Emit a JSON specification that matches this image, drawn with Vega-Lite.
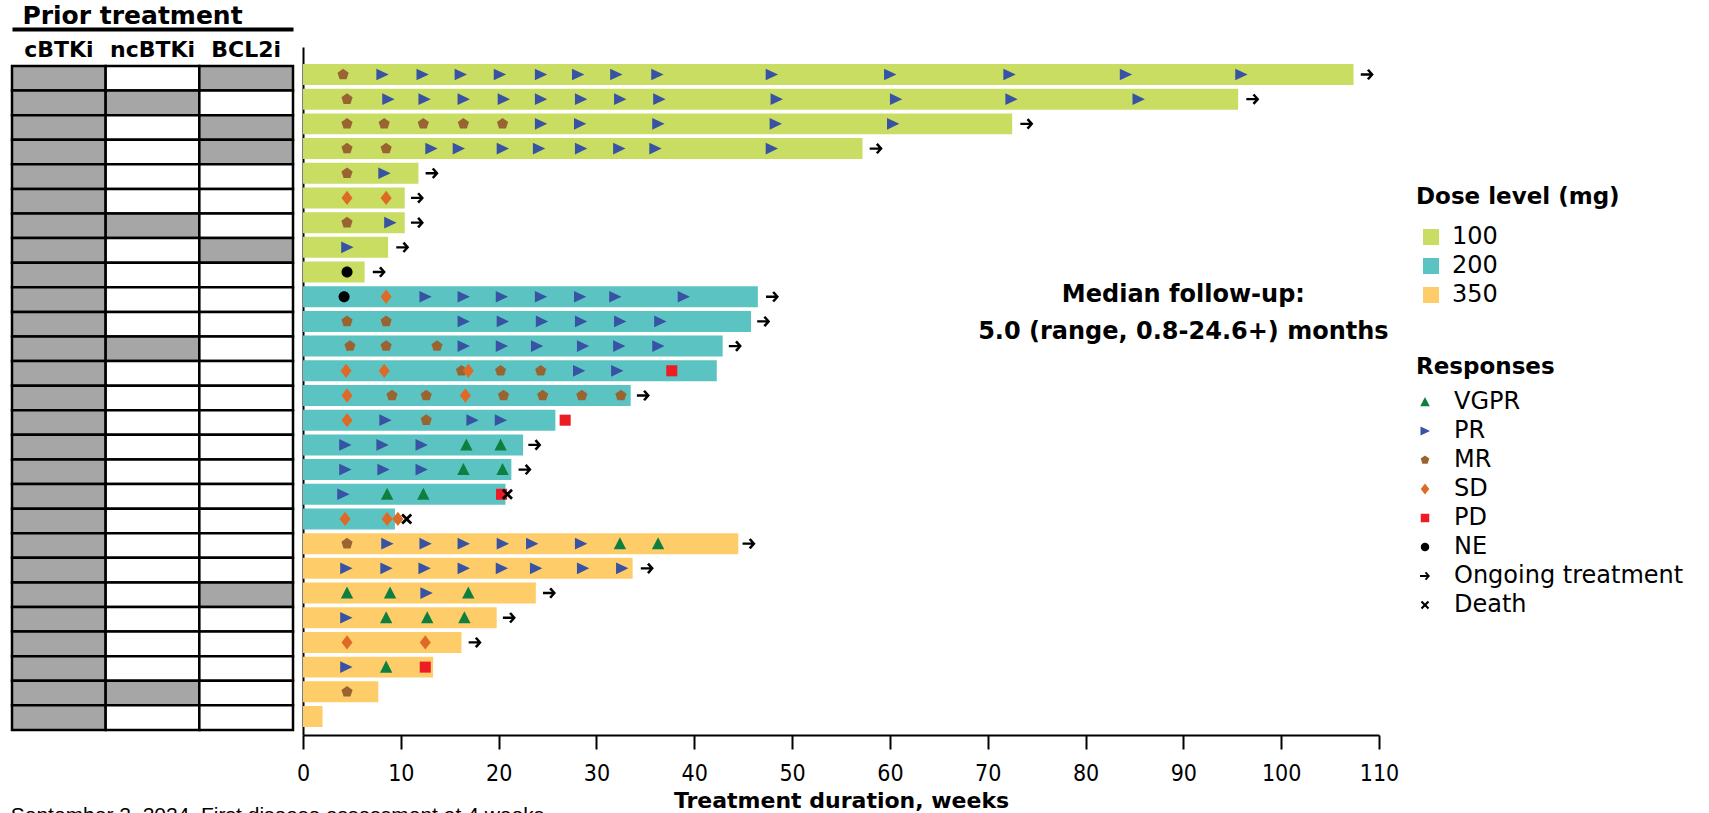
{
  "$schema": "https://vega.github.io/schema/vega-lite/v6.json",
  "padding": {"left": 10, "top": 3, "right": 5, "bottom": 0},
  "bounds": "flush",
  "spacing": 10,
  "resolve": {"scale": {"y": "independent", "fill": "independent", "color": "independent", "shape": "independent"}},
  "config": {
    "view": {"stroke": null},
    "font": "DejaVu Sans",
    "axis": {"labelColor": "#000", "titleColor": "#000"},
    "legend": {
      "labelFontSize": 24, "titleFontSize": 23, "titleFontWeight": "bold", "labelFont": "DejaVu Sans", "titleFont": "DejaVu Sans",
      "labelColor": "#000", "titleColor": "#000", "labelLimit": 0, "titleLimit": 0,
      "rowPadding": 5, "symbolStrokeWidth": 0
    }
  },
  "datasets": {
    "patients": [
      {"pt": 1, "dose": "100", "dur": 107.4, "cBTKi": "Yes", "ncBTKi": "No", "BCL2i": "Yes"},
      {"pt": 2, "dose": "100", "dur": 95.6, "cBTKi": "Yes", "ncBTKi": "Yes", "BCL2i": "No"},
      {"pt": 3, "dose": "100", "dur": 72.5, "cBTKi": "Yes", "ncBTKi": "No", "BCL2i": "Yes"},
      {"pt": 4, "dose": "100", "dur": 57.2, "cBTKi": "Yes", "ncBTKi": "No", "BCL2i": "Yes"},
      {"pt": 5, "dose": "100", "dur": 11.8, "cBTKi": "Yes", "ncBTKi": "No", "BCL2i": "No"},
      {"pt": 6, "dose": "100", "dur": 10.4, "cBTKi": "Yes", "ncBTKi": "No", "BCL2i": "No"},
      {"pt": 7, "dose": "100", "dur": 10.4, "cBTKi": "Yes", "ncBTKi": "Yes", "BCL2i": "No"},
      {"pt": 8, "dose": "100", "dur": 8.7, "cBTKi": "Yes", "ncBTKi": "No", "BCL2i": "Yes"},
      {"pt": 9, "dose": "100", "dur": 6.3, "cBTKi": "Yes", "ncBTKi": "No", "BCL2i": "No"},
      {"pt": 10, "dose": "200", "dur": 46.5, "cBTKi": "Yes", "ncBTKi": "No", "BCL2i": "No"},
      {"pt": 11, "dose": "200", "dur": 45.8, "cBTKi": "Yes", "ncBTKi": "No", "BCL2i": "No"},
      {"pt": 12, "dose": "200", "dur": 42.9, "cBTKi": "Yes", "ncBTKi": "Yes", "BCL2i": "No"},
      {"pt": 13, "dose": "200", "dur": 42.3, "cBTKi": "Yes", "ncBTKi": "No", "BCL2i": "No"},
      {"pt": 14, "dose": "200", "dur": 33.5, "cBTKi": "Yes", "ncBTKi": "No", "BCL2i": "No"},
      {"pt": 15, "dose": "200", "dur": 25.8, "cBTKi": "Yes", "ncBTKi": "No", "BCL2i": "No"},
      {"pt": 16, "dose": "200", "dur": 22.5, "cBTKi": "Yes", "ncBTKi": "No", "BCL2i": "No"},
      {"pt": 17, "dose": "200", "dur": 21.3, "cBTKi": "Yes", "ncBTKi": "No", "BCL2i": "No"},
      {"pt": 18, "dose": "200", "dur": 20.7, "cBTKi": "Yes", "ncBTKi": "No", "BCL2i": "No"},
      {"pt": 19, "dose": "200", "dur": 9.4, "cBTKi": "Yes", "ncBTKi": "No", "BCL2i": "No"},
      {"pt": 20, "dose": "350", "dur": 44.5, "cBTKi": "Yes", "ncBTKi": "No", "BCL2i": "No"},
      {"pt": 21, "dose": "350", "dur": 33.7, "cBTKi": "Yes", "ncBTKi": "No", "BCL2i": "No"},
      {"pt": 22, "dose": "350", "dur": 23.8, "cBTKi": "Yes", "ncBTKi": "No", "BCL2i": "Yes"},
      {"pt": 23, "dose": "350", "dur": 19.8, "cBTKi": "Yes", "ncBTKi": "No", "BCL2i": "No"},
      {"pt": 24, "dose": "350", "dur": 16.2, "cBTKi": "Yes", "ncBTKi": "No", "BCL2i": "No"},
      {"pt": 25, "dose": "350", "dur": 13.3, "cBTKi": "Yes", "ncBTKi": "No", "BCL2i": "No"},
      {"pt": 26, "dose": "350", "dur": 7.7, "cBTKi": "Yes", "ncBTKi": "Yes", "BCL2i": "No"},
      {"pt": 27, "dose": "350", "dur": 2.0, "cBTKi": "Yes", "ncBTKi": "No", "BCL2i": "No"}
    ],
    "events": [
      {"pt": 1, "w": 4.1, "r": "MR"}, {"pt": 1, "w": 8.1, "r": "PR"}, {"pt": 1, "w": 12.2, "r": "PR"}, {"pt": 1, "w": 16.1, "r": "PR"}, {"pt": 1, "w": 20.1, "r": "PR"}, {"pt": 1, "w": 24.3, "r": "PR"}, {"pt": 1, "w": 28.1, "r": "PR"}, {"pt": 1, "w": 32.0, "r": "PR"}, {"pt": 1, "w": 36.2, "r": "PR"}, {"pt": 1, "w": 47.9, "r": "PR"}, {"pt": 1, "w": 60.0, "r": "PR"}, {"pt": 1, "w": 72.2, "r": "PR"}, {"pt": 1, "w": 84.1, "r": "PR"}, {"pt": 1, "w": 95.9, "r": "PR"}, {"pt": 1, "w": 108.8, "r": "Ongoing treatment"},
      {"pt": 2, "w": 4.5, "r": "MR"}, {"pt": 2, "w": 8.7, "r": "PR"}, {"pt": 2, "w": 12.4, "r": "PR"}, {"pt": 2, "w": 16.4, "r": "PR"}, {"pt": 2, "w": 20.5, "r": "PR"}, {"pt": 2, "w": 24.3, "r": "PR"}, {"pt": 2, "w": 28.4, "r": "PR"}, {"pt": 2, "w": 32.4, "r": "PR"}, {"pt": 2, "w": 36.4, "r": "PR"}, {"pt": 2, "w": 48.4, "r": "PR"}, {"pt": 2, "w": 60.6, "r": "PR"}, {"pt": 2, "w": 72.4, "r": "PR"}, {"pt": 2, "w": 85.4, "r": "PR"}, {"pt": 2, "w": 97.1, "r": "Ongoing treatment"},
      {"pt": 3, "w": 4.5, "r": "MR"}, {"pt": 3, "w": 8.3, "r": "MR"}, {"pt": 3, "w": 12.3, "r": "MR"}, {"pt": 3, "w": 16.4, "r": "MR"}, {"pt": 3, "w": 20.4, "r": "MR"}, {"pt": 3, "w": 24.3, "r": "PR"}, {"pt": 3, "w": 28.3, "r": "PR"}, {"pt": 3, "w": 36.3, "r": "PR"}, {"pt": 3, "w": 48.3, "r": "PR"}, {"pt": 3, "w": 60.3, "r": "PR"}, {"pt": 3, "w": 74.0, "r": "Ongoing treatment"},
      {"pt": 4, "w": 4.5, "r": "MR"}, {"pt": 4, "w": 8.5, "r": "MR"}, {"pt": 4, "w": 13.1, "r": "PR"}, {"pt": 4, "w": 15.9, "r": "PR"}, {"pt": 4, "w": 20.4, "r": "PR"}, {"pt": 4, "w": 24.1, "r": "PR"}, {"pt": 4, "w": 28.4, "r": "PR"}, {"pt": 4, "w": 32.3, "r": "PR"}, {"pt": 4, "w": 36.0, "r": "PR"}, {"pt": 4, "w": 47.9, "r": "PR"}, {"pt": 4, "w": 58.6, "r": "Ongoing treatment"},
      {"pt": 5, "w": 4.5, "r": "MR"}, {"pt": 5, "w": 8.3, "r": "PR"}, {"pt": 5, "w": 13.2, "r": "Ongoing treatment"},
      {"pt": 6, "w": 4.5, "r": "SD"}, {"pt": 6, "w": 8.5, "r": "SD"}, {"pt": 6, "w": 11.7, "r": "Ongoing treatment"},
      {"pt": 7, "w": 4.5, "r": "MR"}, {"pt": 7, "w": 8.9, "r": "PR"}, {"pt": 7, "w": 11.7, "r": "Ongoing treatment"},
      {"pt": 8, "w": 4.5, "r": "PR"}, {"pt": 8, "w": 10.2, "r": "Ongoing treatment"},
      {"pt": 9, "w": 4.5, "r": "NE"}, {"pt": 9, "w": 7.8, "r": "Ongoing treatment"},
      {"pt": 10, "w": 4.2, "r": "NE"}, {"pt": 10, "w": 8.5, "r": "SD"}, {"pt": 10, "w": 12.5, "r": "PR"}, {"pt": 10, "w": 16.4, "r": "PR"}, {"pt": 10, "w": 20.3, "r": "PR"}, {"pt": 10, "w": 24.3, "r": "PR"}, {"pt": 10, "w": 28.3, "r": "PR"}, {"pt": 10, "w": 31.9, "r": "PR"}, {"pt": 10, "w": 38.9, "r": "PR"}, {"pt": 10, "w": 48.0, "r": "Ongoing treatment"},
      {"pt": 11, "w": 4.5, "r": "MR"}, {"pt": 11, "w": 8.5, "r": "MR"}, {"pt": 11, "w": 16.4, "r": "PR"}, {"pt": 11, "w": 20.4, "r": "PR"}, {"pt": 11, "w": 24.4, "r": "PR"}, {"pt": 11, "w": 28.4, "r": "PR"}, {"pt": 11, "w": 32.4, "r": "PR"}, {"pt": 11, "w": 36.5, "r": "PR"}, {"pt": 11, "w": 47.1, "r": "Ongoing treatment"},
      {"pt": 12, "w": 4.8, "r": "MR"}, {"pt": 12, "w": 8.5, "r": "MR"}, {"pt": 12, "w": 13.7, "r": "MR"}, {"pt": 12, "w": 16.4, "r": "PR"}, {"pt": 12, "w": 20.3, "r": "PR"}, {"pt": 12, "w": 23.9, "r": "PR"}, {"pt": 12, "w": 28.6, "r": "PR"}, {"pt": 12, "w": 32.3, "r": "PR"}, {"pt": 12, "w": 36.3, "r": "PR"}, {"pt": 12, "w": 44.2, "r": "Ongoing treatment"},
      {"pt": 13, "w": 4.4, "r": "SD"}, {"pt": 13, "w": 8.3, "r": "SD"}, {"pt": 13, "w": 16.2, "r": "MR"}, {"pt": 13, "w": 16.9, "r": "SD"}, {"pt": 13, "w": 20.2, "r": "MR"}, {"pt": 13, "w": 24.3, "r": "MR"}, {"pt": 13, "w": 28.2, "r": "PR"}, {"pt": 13, "w": 32.1, "r": "PR"}, {"pt": 13, "w": 37.7, "r": "PD"},
      {"pt": 14, "w": 4.5, "r": "SD"}, {"pt": 14, "w": 9.1, "r": "MR"}, {"pt": 14, "w": 12.6, "r": "MR"}, {"pt": 14, "w": 16.6, "r": "SD"}, {"pt": 14, "w": 20.5, "r": "MR"}, {"pt": 14, "w": 24.5, "r": "MR"}, {"pt": 14, "w": 28.5, "r": "MR"}, {"pt": 14, "w": 32.5, "r": "MR"}, {"pt": 14, "w": 34.8, "r": "Ongoing treatment"},
      {"pt": 15, "w": 4.5, "r": "SD"}, {"pt": 15, "w": 8.4, "r": "PR"}, {"pt": 15, "w": 12.6, "r": "MR"}, {"pt": 15, "w": 17.3, "r": "PR"}, {"pt": 15, "w": 20.2, "r": "PR"}, {"pt": 15, "w": 26.8, "r": "PD"},
      {"pt": 16, "w": 4.3, "r": "PR"}, {"pt": 16, "w": 8.1, "r": "PR"}, {"pt": 16, "w": 12.1, "r": "PR"}, {"pt": 16, "w": 16.7, "r": "VGPR"}, {"pt": 16, "w": 20.2, "r": "VGPR"}, {"pt": 16, "w": 23.7, "r": "Ongoing treatment"},
      {"pt": 17, "w": 4.3, "r": "PR"}, {"pt": 17, "w": 8.2, "r": "PR"}, {"pt": 17, "w": 12.1, "r": "PR"}, {"pt": 17, "w": 16.4, "r": "VGPR"}, {"pt": 17, "w": 20.4, "r": "VGPR"}, {"pt": 17, "w": 22.7, "r": "Ongoing treatment"},
      {"pt": 18, "w": 4.1, "r": "PR"}, {"pt": 18, "w": 8.6, "r": "VGPR"}, {"pt": 18, "w": 12.3, "r": "VGPR"}, {"pt": 18, "w": 20.3, "r": "PD"}, {"pt": 18, "w": 20.9, "r": "Death"},
      {"pt": 19, "w": 4.3, "r": "SD"}, {"pt": 19, "w": 8.6, "r": "SD"}, {"pt": 19, "w": 9.7, "r": "SD"}, {"pt": 19, "w": 10.6, "r": "Death"},
      {"pt": 20, "w": 4.5, "r": "MR"}, {"pt": 20, "w": 8.6, "r": "PR"}, {"pt": 20, "w": 12.5, "r": "PR"}, {"pt": 20, "w": 16.4, "r": "PR"}, {"pt": 20, "w": 20.4, "r": "PR"}, {"pt": 20, "w": 23.4, "r": "PR"}, {"pt": 20, "w": 28.4, "r": "PR"}, {"pt": 20, "w": 32.4, "r": "VGPR"}, {"pt": 20, "w": 36.3, "r": "VGPR"}, {"pt": 20, "w": 45.6, "r": "Ongoing treatment"},
      {"pt": 21, "w": 4.4, "r": "PR"}, {"pt": 21, "w": 8.5, "r": "PR"}, {"pt": 21, "w": 12.4, "r": "PR"}, {"pt": 21, "w": 16.4, "r": "PR"}, {"pt": 21, "w": 20.3, "r": "PR"}, {"pt": 21, "w": 23.8, "r": "PR"}, {"pt": 21, "w": 28.6, "r": "PR"}, {"pt": 21, "w": 32.6, "r": "PR"}, {"pt": 21, "w": 35.2, "r": "Ongoing treatment"},
      {"pt": 22, "w": 4.5, "r": "VGPR"}, {"pt": 22, "w": 8.9, "r": "VGPR"}, {"pt": 22, "w": 12.6, "r": "PR"}, {"pt": 22, "w": 16.9, "r": "VGPR"}, {"pt": 22, "w": 25.2, "r": "Ongoing treatment"},
      {"pt": 23, "w": 4.4, "r": "PR"}, {"pt": 23, "w": 8.5, "r": "VGPR"}, {"pt": 23, "w": 12.7, "r": "VGPR"}, {"pt": 23, "w": 16.5, "r": "VGPR"}, {"pt": 23, "w": 21.1, "r": "Ongoing treatment"},
      {"pt": 24, "w": 4.5, "r": "SD"}, {"pt": 24, "w": 12.5, "r": "SD"}, {"pt": 24, "w": 17.6, "r": "Ongoing treatment"},
      {"pt": 25, "w": 4.4, "r": "PR"}, {"pt": 25, "w": 8.5, "r": "VGPR"}, {"pt": 25, "w": 12.5, "r": "PD"},
      {"pt": 26, "w": 4.5, "r": "MR"}
    ]
  },
  "hconcat": [
    {
      "width": 281,
      "height": 688,
      "data": {"name": "patients"},
      "transform": [{"fold": ["cBTKi", "ncBTKi", "BCL2i"], "as": ["drug", "prior"]}],
      "title": {"text": "September 2, 2024. First disease assessment at 4 weeks.", "orient": "bottom", "anchor": "start", "offset": 70, "fontSize": 21, "fontWeight": "normal", "color": "#000", "font": "Liberation Sans"},
      "mark": {"type": "rect", "stroke": "#000", "strokeWidth": 2.5},
      "encoding": {
        "x": {
          "field": "drug", "type": "nominal", "sort": ["cBTKi", "ncBTKi", "BCL2i"],
          "scale": {"paddingInner": 0, "paddingOuter": 0},
          "axis": {
            "orient": "top", "title": "Prior treatment", "titleFontSize": 25, "titleFontWeight": "bold", "titlePadding": 1,
            "titleX": 120, "titleAlign": "center",
            "domain": true, "domainColor": "#000", "domainWidth": 4, "ticks": false, "tickSize": 0,
            "labelFontSize": 22, "labelFontWeight": "bold", "labelPadding": -20, "labelBaseline": "middle", "labelAngle": 0,
            "offset": 18
          }
        },
        "y": {"field": "pt", "type": "ordinal", "axis": null, "scale": {"paddingInner": 0, "paddingOuter": 0.488, "align": 0.79}},
        "fill": {"field": "prior", "type": "nominal", "scale": {"domain": ["Yes", "No"], "range": ["#a6a6a6", "#ffffff"]}, "legend": null}
      }
    },
    {
      "width": 1076,
      "height": 688,
      "layer": [
        {
          "data": {"name": "patients"},
          "mark": {"type": "bar"},
          "encoding": {
            "x": {
              "field": "dur", "type": "quantitative", "title": "Treatment duration, weeks",
              "scale": {"domain": [0, 110], "nice": false},
              "axis": {
                "values": [0, 10, 20, 30, 40, 50, 60, 70, 80, 90, 100, 110], "grid": false,
                "domainColor": "#000", "domainWidth": 2, "tickColor": "#000", "tickWidth": 2, "tickSize": 14,
                "labelFont": "Liberation Sans Narrow, DejaVu Sans Condensed, sans-serif", "labelFontSize": 23, "labelPadding": 13, "labelFlush": false,
                "titleFontSize": 22, "titleFontWeight": "bold", "titlePadding": 5
              }
            },
            "y": {
              "field": "pt", "type": "ordinal", "title": null,
              "scale": {"paddingInner": 0.15, "paddingOuter": 0.506, "align": 0.68},
              "axis": {"labels": false, "ticks": false, "domainColor": "#000", "domainWidth": 2, "grid": false}
            },
            "color": {
              "field": "dose", "type": "nominal",
              "scale": {"domain": ["100", "200", "350"], "range": ["#c9dd63", "#5bc4c3", "#fecd69"]},
              "legend": {"title": "Dose level (mg)", "orient": "none", "legendX": 1113, "legendY": 139, "symbolType": "square", "symbolSize": 256, "symbolOpacity": 1, "symbolOffset": 3, "labelOffset": 9, "titlePadding": 16}
            }
          }
        },
        {
          "data": {"name": "events"},
          "mark": {"type": "point", "filled": true, "opacity": 1, "size": 169},
          "encoding": {
            "x": {"field": "w", "type": "quantitative", "title": "Treatment duration, weeks", "scale": {"domain": [0, 110], "nice": false}},
            "y": {"field": "pt", "type": "ordinal", "title": null},
            "shape": {
              "field": "r", "type": "nominal",
              "scale": {
                "domain": ["VGPR", "PR", "MR", "SD", "PD", "NE", "Ongoing treatment", "Death"],
                "range": [
                  "M0,-1L0.95,0.85L-0.95,0.85Z",
                  "M1,0L-0.9,-0.9L-0.9,0.9Z",
                  "M0,-0.9L0.86,-0.28L0.53,0.73L-0.53,0.73L-0.86,-0.28Z",
                  "M0,-1.1L0.85,0L0,1.1L-0.85,0Z",
                  "M-0.85,-0.85L0.85,-0.85L0.85,0.85L-0.85,0.85Z",
                  "M0.85,0A0.85,0.85,0,1,1,-0.85,0A0.85,0.85,0,1,1,0.85,0Z",
                  "M-1,-0.18L0.35,-0.18L-0.05,-0.6L0.25,-0.85L1,0L0.25,0.85L-0.05,0.6L0.35,0.18L-1,0.18Z",
                  "M-0.85,-0.55L-0.55,-0.85L0,-0.3L0.55,-0.85L0.85,-0.55L0.3,0L0.85,0.55L0.55,0.85L0,0.3L-0.55,0.85L-0.85,0.55L-0.3,0Z"
                ]
              },
              "legend": {"title": "Responses", "orient": "none", "legendX": 1113, "legendY": 309, "symbolSize": 100, "symbolOffset": -3, "labelOffset": 17, "titlePadding": 11}
            },
            "fill": {
              "field": "r", "type": "nominal",
              "scale": {
                "domain": ["VGPR", "PR", "MR", "SD", "PD", "NE", "Ongoing treatment", "Death"],
                "range": ["#0f7f3f", "#3852a4", "#9a6432", "#dd6b27", "#ec1c24", "#000000", "#000000", "#000000"]
              },
              "legend": {"title": "Responses", "orient": "none", "legendX": 1113, "legendY": 309, "symbolSize": 100, "symbolOffset": -3, "labelOffset": 17, "titlePadding": 11}
            }
          }
        },
        {
          "data": {"values": [{}]},
          "mark": {"type": "text", "text": ["Median follow-up:", "5.0 (range, 0.8-24.6+) months"], "font": "DejaVu Sans", "fontSize": 24, "fontWeight": "bold", "align": "center", "baseline": "middle", "lineHeight": 37, "dy": -2, "color": "#000"},
          "encoding": {"x": {"datum": 90}, "y": {"datum": 10, "type": "ordinal"}}
        }
      ]
    }
  ]
}
